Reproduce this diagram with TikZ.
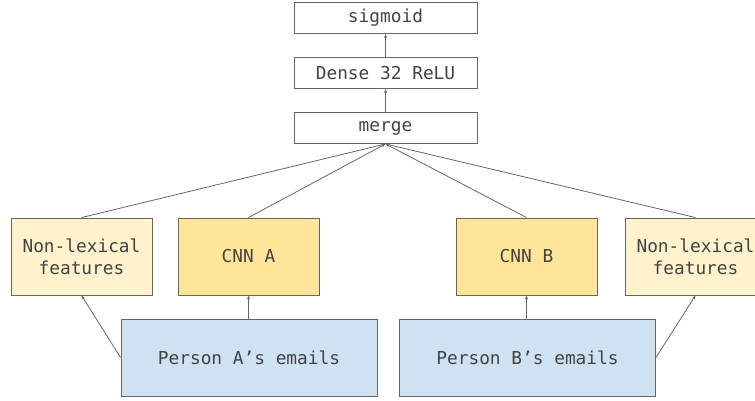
\documentclass[tikz,border=0pt]{standalone}
\usepackage{fontspec}
\setmonofont{DejaVu Sans Mono}
\usetikzlibrary{arrows.meta}
\definecolor{boxline}{HTML}{666666}
\definecolor{txt}{HTML}{434343}
\definecolor{paleyellow}{HTML}{FFF2CC}
\definecolor{cnnyellow}{HTML}{FFE599}
\definecolor{paleblue}{HTML}{CFE2F3}
\begin{document}
\begin{tikzpicture}[x=1pt, y=-1pt,
  box/.style={draw=boxline, line width=0.9pt, rectangle, text=txt, align=center,
    font=\ttfamily\fontsize{17.8}{22}\selectfont},
  layer/.style={box, minimum width=183pt, minimum height=31pt, fill=white},
  feat/.style={box, minimum width=141pt, minimum height=77pt},
  mail/.style={box, minimum width=256pt, minimum height=77pt, fill=paleblue},
  link/.style={draw=boxline, line width=0.8pt, -{Stealth[length=4pt, width=3pt]}}]
\useasboundingbox (0,0) rectangle (755,401);

\node[layer] (sigmoid) at (385.5,18) {sigmoid};
\node[layer] (dense) at (385.5,73) {Dense 32 ReLU};
\node[layer] (merge) at (385.5,128) {merge};

\node[feat, fill=paleyellow] (featA) at (81.5,256.5) {Non-lexical\\features};
\node[feat, fill=cnnyellow] (cnnA) at (248.5,256.5) {CNN A};
\node[feat, fill=cnnyellow] (cnnB) at (526.5,256.5) {CNN B};
\node[feat, fill=paleyellow] (featB) at (695.5,256.5) {Non-lexical\\features};

\node[mail] (mailA) at (249,357.5) {Person A’s emails};
\node[mail] (mailB) at (527.5,357.5) {Person B’s emails};

\draw[link] (dense) -- (sigmoid);
\draw[link] (merge) -- (dense);
\draw[link] (featA.north) -- (merge.south);
\draw[link] (cnnA.north) -- (merge.south);
\draw[link] (cnnB.north) -- (merge.south);
\draw[link] (featB.north) -- (merge.south);
\draw[link] (mailA.north -| cnnA) -- (cnnA.south);
\draw[link] (mailB.north -| cnnB) -- (cnnB.south);
\draw[link] (mailA.west) -- (featA.south);
\draw[link] (mailB.east) -- (featB.south);
\end{tikzpicture}
\end{document}
